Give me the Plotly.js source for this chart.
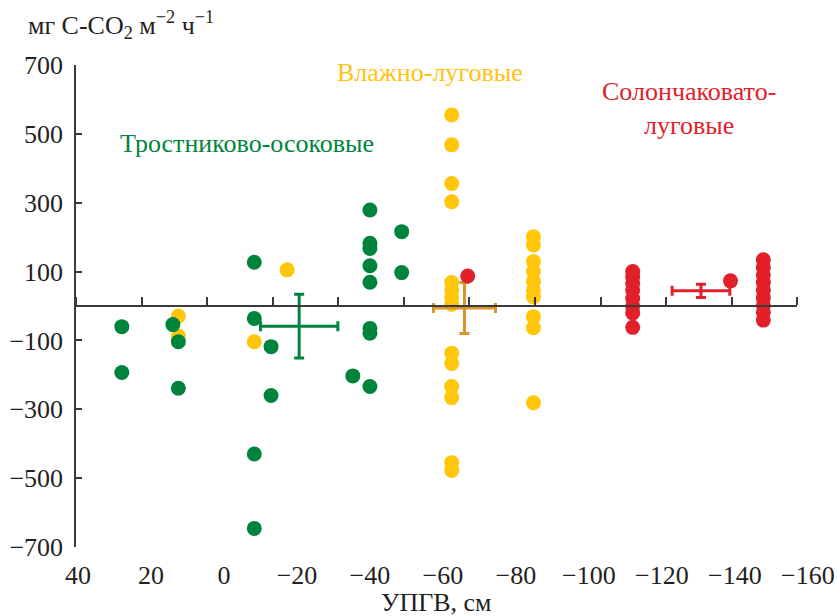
<!DOCTYPE html>
<html><head><meta charset="utf-8">
<script src="https://cdn.plot.ly/plotly-3.0.1.min.js"></script>
<style>
#chart text { font-family: 'Liberation Serif', serif !important; }
</style>
</head><body style="margin:0;background:#fff">
<div id="chart" style="width:837px;height:616px"></div>
<script>
// Тростниково-осоковые (green)
const greenX = [28, 28, 14, 12.5, 12.5, -8.3, -8.3, -8.3, -8.3, -12.9, -12.9, -35.3, -40, -40, -40, -40, -40, -40, -40, -40, -48.7, -48.7];
const greenY = [-60, -193, -54, -104, -239, 127, -36, -430, -646, -118, -260, -203, 279, 182, 167, 117, 69, -65, -79, -234, 216, 97];
// Влажно-луговые (yellow)
const yellowX = [12.5, 12.5, -8.3, -17.3,
  -62.4, -62.4, -62.4, -62.4, -62.4, -62.4, -62.4, -62.4, -62.4, -62.4, -62.4, -62.4, -62.4, -62.4,
  -84.8, -84.8, -84.8, -84.8, -84.8, -84.8, -84.8, -84.8, -84.8, -84.8];
const yellowY = [-29, -87, -104, 105,
  555, 468, 356, 303, 68, 46, 25, 5, -137, -167, -234, -266, -455, -478,
  201, 177, 129, 100, 71, 46, 27, -31, -63, -281];
// Солончаковато-луговые (red)
const redX = [-66.8, -112, -112, -112, -112, -112, -112, -112, -112, -138.8,
  -147.8, -147.8, -147.8, -147.8, -147.8, -147.8, -147.8, -147.8, -147.8];
const redY = [87, 100, 85, 66, 46, 22, 0, -20, -62, 73,
  134, 112, 90, 68, 46, 24, 2, -18, -41];
// group means with errors
const meanX = [-20.6, -65.9, -130.7];
const meanY = [-58.5, -6, 44];
const meanErrX = [10.6, 8.5, 7.9];
const meanErrY = [92.5, 74, 19];
// axis ticks
const xTicks = [40, 20, 0, -20, -40, -60, -80, -100, -120, -140, -160];
const yTicks = [-700, -500, -300, -100, 100, 300, 500, 700];
const zeroLineTicks = [40, 20, 0, -20, -40, -60, -80, -100, -120, -140, -160, -180];

const GREEN = '#00843D', YELLOW = '#FFC60B', RED = '#E2202A', ORANGE = '#D9962B';
const F = {family: 'Liberation Serif', size: 26, color: '#231F20'};

function pts(x, y, c) {
  return {type: 'scatter', mode: 'markers', x: x, y: y, cliponaxis: false,
    marker: {size: 15, color: c}, hoverinfo: 'skip', showlegend: false};
}
function mean(i, c) {
  return {type: 'scatter', mode: 'markers', x: [meanX[i]], y: [meanY[i]], cliponaxis: false,
    marker: {size: 1, color: 'rgba(0,0,0,0)'}, showlegend: false, hoverinfo: 'skip',
    error_x: {type: 'data', array: [meanErrX[i]], color: c, thickness: 3, width: 5},
    error_y: {type: 'data', array: [meanErrY[i]], color: c, thickness: 3, width: 5}};
}

const data = [
  pts(yellowX, yellowY, YELLOW),
  pts(greenX, greenY, GREEN),
  mean(1, ORANGE),
  mean(0, GREEN),
  pts(redX, redY, RED),
  mean(2, RED),
  {type: 'scatter', mode: 'markers', x: [], y: [], xaxis: 'x2', yaxis: 'y', showlegend: false}
];

const layout = {
  width: 837, height: 616,
  margin: {l: 76, r: 20, t: 65, b: 69},
  paper_bgcolor: '#fff', plot_bgcolor: 'rgba(0,0,0,0)',
  showlegend: false,
  font: F,
  xaxis: {
    range: [40.55, -162.5], tickvals: xTicks, tickfont: F,
    ticks: '', showline: false, showgrid: false, zeroline: false,
    ticklabelstandoff: 10
  },
  xaxis2: {
    domain: [0, 0.9734], anchor: 'free', position: 0.5, side: 'top',
    range: [40, -180], tickvals: zeroLineTicks, showticklabels: false,
    ticks: 'outside', ticklen: 8, tickwidth: 1.5, tickcolor: '#3a3a3a',
    showline: true, linecolor: '#3a3a3a', linewidth: 1.5, showgrid: false, zeroline: false
  },
  yaxis: {
    range: [-700, 700], tickvals: yTicks, tickfont: F,
    ticks: 'inside', ticklen: 6, tickwidth: 1.5, tickcolor: '#3a3a3a',
    showline: true, linecolor: '#3a3a3a', linewidth: 1.5, showgrid: false, zeroline: false,
    ticklabelstandoff: 6
  },
  annotations: [
    {xref: 'paper', yref: 'paper', x: -0.068, y: 1.083, xanchor: 'left', yanchor: 'middle',
     text: 'мг C-CO<sub>2</sub> м<sup>\u22122</sup> ч<sup>\u22121</sup>', showarrow: false, font: F},
    {xref: 'paper', yref: 'paper', x: 0.487, y: -0.116, xanchor: 'center', yanchor: 'middle',
     text: 'УПГВ, см', showarrow: false, font: F},
    {xref: 'x', yref: 'y', x: -6.4, y: 473, text: 'Тростниково-осоковые', showarrow: false,
     font: {family: 'Liberation Serif', size: 26, color: GREEN}},
    {xref: 'x', yref: 'y', x: -56.4, y: 677, text: 'Влажно-луговые', showarrow: false,
     font: {family: 'Liberation Serif', size: 26, color: '#FFC20E'}},
    {xref: 'x', yref: 'y', x: -127.4, y: 574, text: 'Солончаковато-<br>луговые', showarrow: false,
     font: {family: 'Liberation Serif', size: 26, color: RED}}
  ]
};

Plotly.newPlot('chart', data, layout, {displayModeBar: false});
</script>
</body></html>
